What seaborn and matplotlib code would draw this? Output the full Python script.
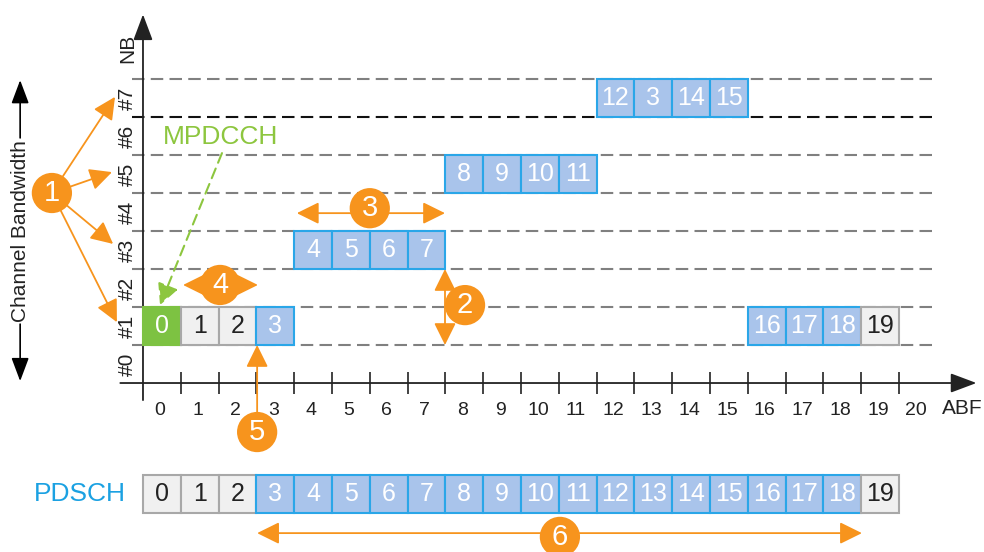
import matplotlib
matplotlib.use("Agg")
import matplotlib.pyplot as plt
import seaborn as sns
import pandas as pd

# ---------------- data ----------------
cell_abf = list(range(20))
cell_nb = [1, 1, 1, 1, 3, 3, 3, 3, 5, 5, 5, 5, 7, 7, 7, 7, 1, 1, 1, 1]
cell_labels = ["0", "1", "2", "3", "4", "5", "6", "7", "8", "9", "10", "11",
               "12", "3", "14", "15", "16", "17", "18", "19"]
cell_kind = ["mpdcch", "gap", "gap"] + ["data"] * 16 + ["gap"]
pdsch_labels = [str(i) for i in range(20)]
pdsch_kind = ["gap"] * 3 + ["data"] * 16 + ["gap"]
x_ticks = list(range(1, 21))
x_ticklabels = [str(i) for i in range(21)]
nb_labels = ["#0", "#1", "#2", "#3", "#4", "#5", "#6", "#7"]

callouts = pd.DataFrame({
    "num": ["1", "2", "3", "4", "5", "6"],
    "x": [-2.41, 8.52, 6.0, 2.04, 3.02, 11.03],
    "y": [5.0, 2.05, 4.6, 2.58, -1.29, -4.05],
})

# ---------------- style ----------------
sns.set_theme(style="white")
plt.rcParams["font.family"] = ["Liberation Sans", "DejaVu Sans"]

BLUE_F, BLUE_E = "#A9C4EB", "#2AA6E8"
GRAY_F, GRAY_E = "#F0F0F0", "#A8A8A8"
GREEN = "#7DC242"
ORANGE = "#F7941D"
TXT = "#222222"
fills = {"data": (BLUE_F, BLUE_E, "white"), "gap": (GRAY_F, GRAY_E, TXT),
         "mpdcch": (GREEN, GREEN, "white")}

fig = plt.figure(figsize=(9.84, 5.52), dpi=100)
ax = fig.add_axes([0, 0, 1, 1])
ax.set_xlim(-3.783, 22.25)
ax.set_ylim(-4.447, 10.079)
ax.axis("off")

# dashed NB boundaries
for yv in range(1, 9):
    ax.hlines(yv, -0.3, 21.03, colors="#111111" if yv == 7 else "#808080",
              linestyles=(0, (6, 3)), lw=1.5, zorder=1)

# axes with arrows
ax.annotate("", xy=(22.05, 0), xytext=(-0.6, 0),
            arrowprops=dict(arrowstyle="-|>,head_length=0.8,head_width=0.3",
                            color=TXT, lw=1.3, mutation_scale=20,
                            shrinkA=0, shrinkB=0), zorder=3)
ax.annotate("", xy=(0, 9.7), xytext=(0, -0.45),
            arrowprops=dict(arrowstyle="-|>,head_length=0.8,head_width=0.3",
                            color=TXT, lw=1.3, mutation_scale=20,
                            shrinkA=0, shrinkB=0), zorder=3)
ax.vlines(x_ticks, -0.3, 0.3, colors=TXT, lw=1.2, zorder=3)
for i, lab in enumerate(x_ticklabels):
    ax.text(i + 0.45, -0.72, lab, ha="center", va="center", fontsize=14, color=TXT)
ax.text(21.67, -0.66, "ABF", ha="center", va="center", fontsize=15, color=TXT)
for k, lab in enumerate(nb_labels):
    ax.text(-0.4, k + 0.5, lab, ha="center", va="center", rotation=90,
            fontsize=15, color=TXT)
ax.text(-0.4, 8.8, "NB", ha="center", va="center", rotation=90, fontsize=15, color=TXT)

# resource cells
for a, nb, lab, kind in zip(cell_abf, cell_nb, cell_labels, cell_kind):
    f, e, t = fills[kind]
    ax.bar(a, 1, bottom=nb, width=1, align="edge", color=f, edgecolor=e, lw=1.5, zorder=4)
    ax.text(a + 0.5, nb + 0.5, lab, ha="center", va="center", fontsize=18, color=t, zorder=5)

PD_Y = -3.42
for a, lab, kind in zip(cell_abf, pdsch_labels, pdsch_kind):
    f, e, t = fills[kind]
    ax.bar(a, 1, bottom=PD_Y, width=1, align="edge", color=f, edgecolor=e, lw=1.5, zorder=4)
    ax.text(a + 0.5, PD_Y + 0.5, lab, ha="center", va="center", fontsize=18, color=t, zorder=5)
ax.text(-1.67, PD_Y + 0.5, "PDSCH", ha="center", va="center", fontsize=19, color="#1BA1E2")

# channel bandwidth
ax.text(-3.25, 4.0, "Channel Bandwidth", ha="center", va="center", rotation=90,
        fontsize=15, color=TXT)
for y0, y1 in [(6.45, 7.97), (1.55, 0.05)]:
    ax.annotate("", xy=(-3.25, y1), xytext=(-3.25, y0),
                arrowprops=dict(arrowstyle="-|>,head_length=0.8,head_width=0.3",
                                color="black", lw=1.2, mutation_scale=18,
                                shrinkA=0, shrinkB=0))

# MPDCCH
ax.text(2.04, 6.47, "MPDCCH", ha="center", va="center", fontsize=19, color="#8DC63F")
ax.annotate("", xy=(0.45, 2.05), xytext=(2.09, 6.05),
            arrowprops=dict(arrowstyle="-|>,head_length=0.8,head_width=0.4",
                            color="#8DC63F", lw=1.5, ls=(0, (5, 3)), mutation_scale=16,
                            shrinkA=0, shrinkB=0), zorder=6)

# orange annotations
def oarrow(xy, xytext, style="-|>"):
    ax.annotate("", xy=xy, xytext=xytext,
                arrowprops=dict(arrowstyle=style + ",head_length=0.85,head_width=0.42",
                                color=ORANGE, lw=1.3, mutation_scale=16,
                                shrinkA=0, shrinkB=0), zorder=6)

for tip in [(-0.74, 7.53), (-0.82, 5.55), (-0.79, 3.66), (-0.69, 1.6)]:
    oarrow(tip, (-2.41, 5.0))
oarrow((7.99, 1.0), (7.99, 3.0), "<|-|>")
oarrow((4.07, 4.47), (7.99, 4.47), "<|-|>")
oarrow((1.06, 2.58), (3.04, 2.58), "<|-|>")
oarrow((3.02, 1.0), (3.02, -0.9))
oarrow((3.02, -3.95), (19.02, -3.95), "<|-|>")

sns.scatterplot(data=callouts, x="x", y="y", s=840, color=ORANGE, edgecolor="none",
                ax=ax, zorder=7, legend=False)
for _, r in callouts.iterrows():
    ax.text(r.x, r.y, r.num, ha="center", va="center", fontsize=21, color="white", zorder=8)

ax.set_xlim(-3.783, 22.25)
ax.set_ylim(-4.447, 10.079)
ax.axis("off")
fig.savefig("out.png", dpi=100)
